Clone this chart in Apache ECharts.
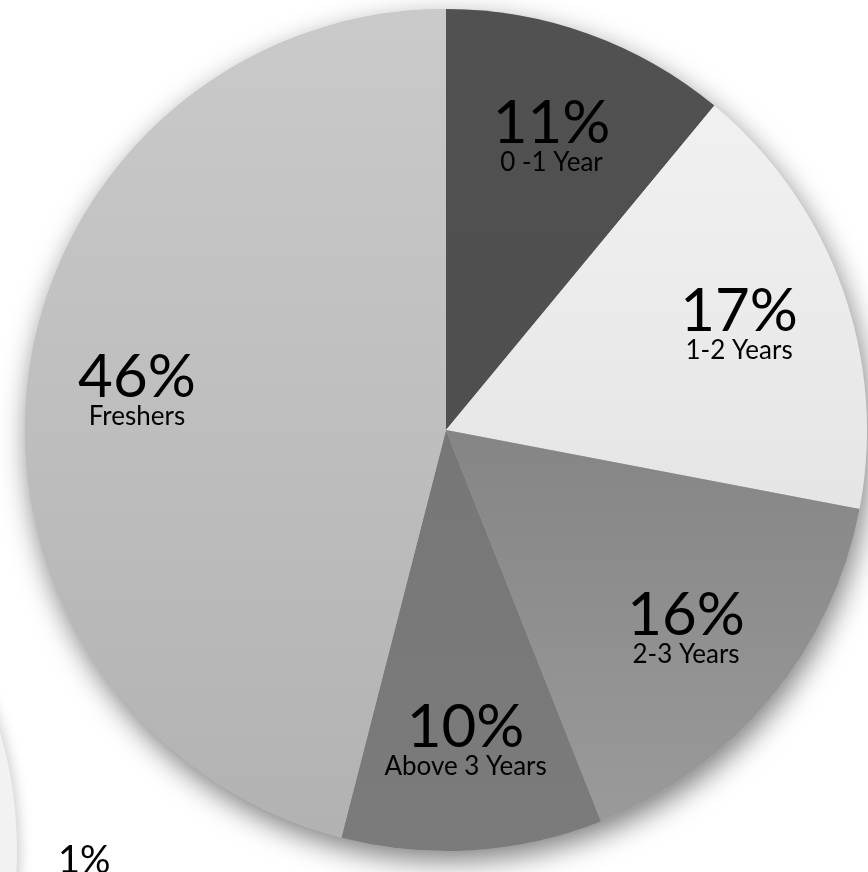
<!DOCTYPE html>
<html>
<head>
<meta charset="utf-8">
<script src="https://cdn.jsdelivr.net/npm/echarts@6/dist/echarts.min.js"></script>
<style>
html,body{margin:0;padding:0;background:#fff;}
#c{width:868px;height:872px;}
</style>
</head>
<body>
<div id="c"></div>
<script>
const categories = ['0 -1 Year', '1-2 Years', '2-3 Years', 'Above 3 Years', 'Freshers'];
const values = [11, 17, 16, 10, 46];
const sliceColors = [
  ['#515151', '#4f4f4f'],
  ['#f1f1f1', '#e5e5e5'],
  ['#858585', '#9a9a9a'],
  ['#777777', '#7b7b7b'],
  ['#cacaca', '#b2b2b2']
];
const otherLabels = ['1%'];

const chart = echarts.init(document.getElementById('c'), null, {renderer: 'canvas'});
const CENTER = [446, 430];
const R = 421;
const total = values.reduce((a, b) => a + b, 0);

function grad(c) {
  return new echarts.graphic.LinearGradient(0, 0, 0, 1, [
    {offset: 0, color: c[0]}, {offset: 1, color: c[1]}
  ]);
}

const option = {
  animation: false,
  backgroundColor: '#ffffff',
  graphic: [{
    type: 'text',
    left: 58,
    top: 842,
    z: 10,
    style: {text: otherLabels[0], fontFamily: 'Lato', fontSize: 38, fill: '#000'}
  }],
  series: [
    {
      type: 'pie', silent: true, z: 1,
      center: [-404, 850], radius: R,
      label: {show: false}, labelLine: {show: false},
      itemStyle: {color: '#f2f2f2', shadowBlur: 14, shadowColor: 'rgba(0,0,0,0.22)', shadowOffsetX: 2, shadowOffsetY: 2},
      data: [{value: total, name: ''}]
    },
    {
      type: 'pie', silent: true, z: 2,
      center: CENTER, radius: R,
      label: {show: false}, labelLine: {show: false},
      itemStyle: {color: '#bbbbbb', shadowBlur: 28, shadowColor: 'rgba(0,0,0,0.5)', shadowOffsetX: 3, shadowOffsetY: 10},
      data: [{value: total, name: ''}]
    },
    {
      type: 'pie', silent: true, z: 3,
      center: CENTER, radius: R,
      startAngle: 90, clockwise: true,
      label: {show: false}, labelLine: {show: false},
      itemStyle: {borderWidth: 0},
      data: categories.map((n, i) => ({name: n, value: values[i], itemStyle: {color: grad(sliceColors[i])}}))
    },
    {
      type: 'pie', silent: true, z: 4,
      center: CENTER, radius: [196, R],
      startAngle: 90, clockwise: true,
      itemStyle: {color: 'rgba(0,0,0,0)', borderWidth: 0},
      labelLine: {show: false},
      label: {
        show: true,
        position: 'inside',
        formatter: p => '{p|' + p.value + '%}\n{n|' + p.name + '}',
        rich: {
          p: {fontFamily: 'Lato', fontSize: 60, lineHeight: 52, color: '#000', align: 'center'},
          n: {fontFamily: 'Lato', fontSize: 26, lineHeight: 26, color: '#000', align: 'center'}
        }
      },
      data: categories.map((n, i) => ({name: n, value: values[i]}))
    }
  ]
};
chart.setOption(option);
</script>
</body>
</html>
